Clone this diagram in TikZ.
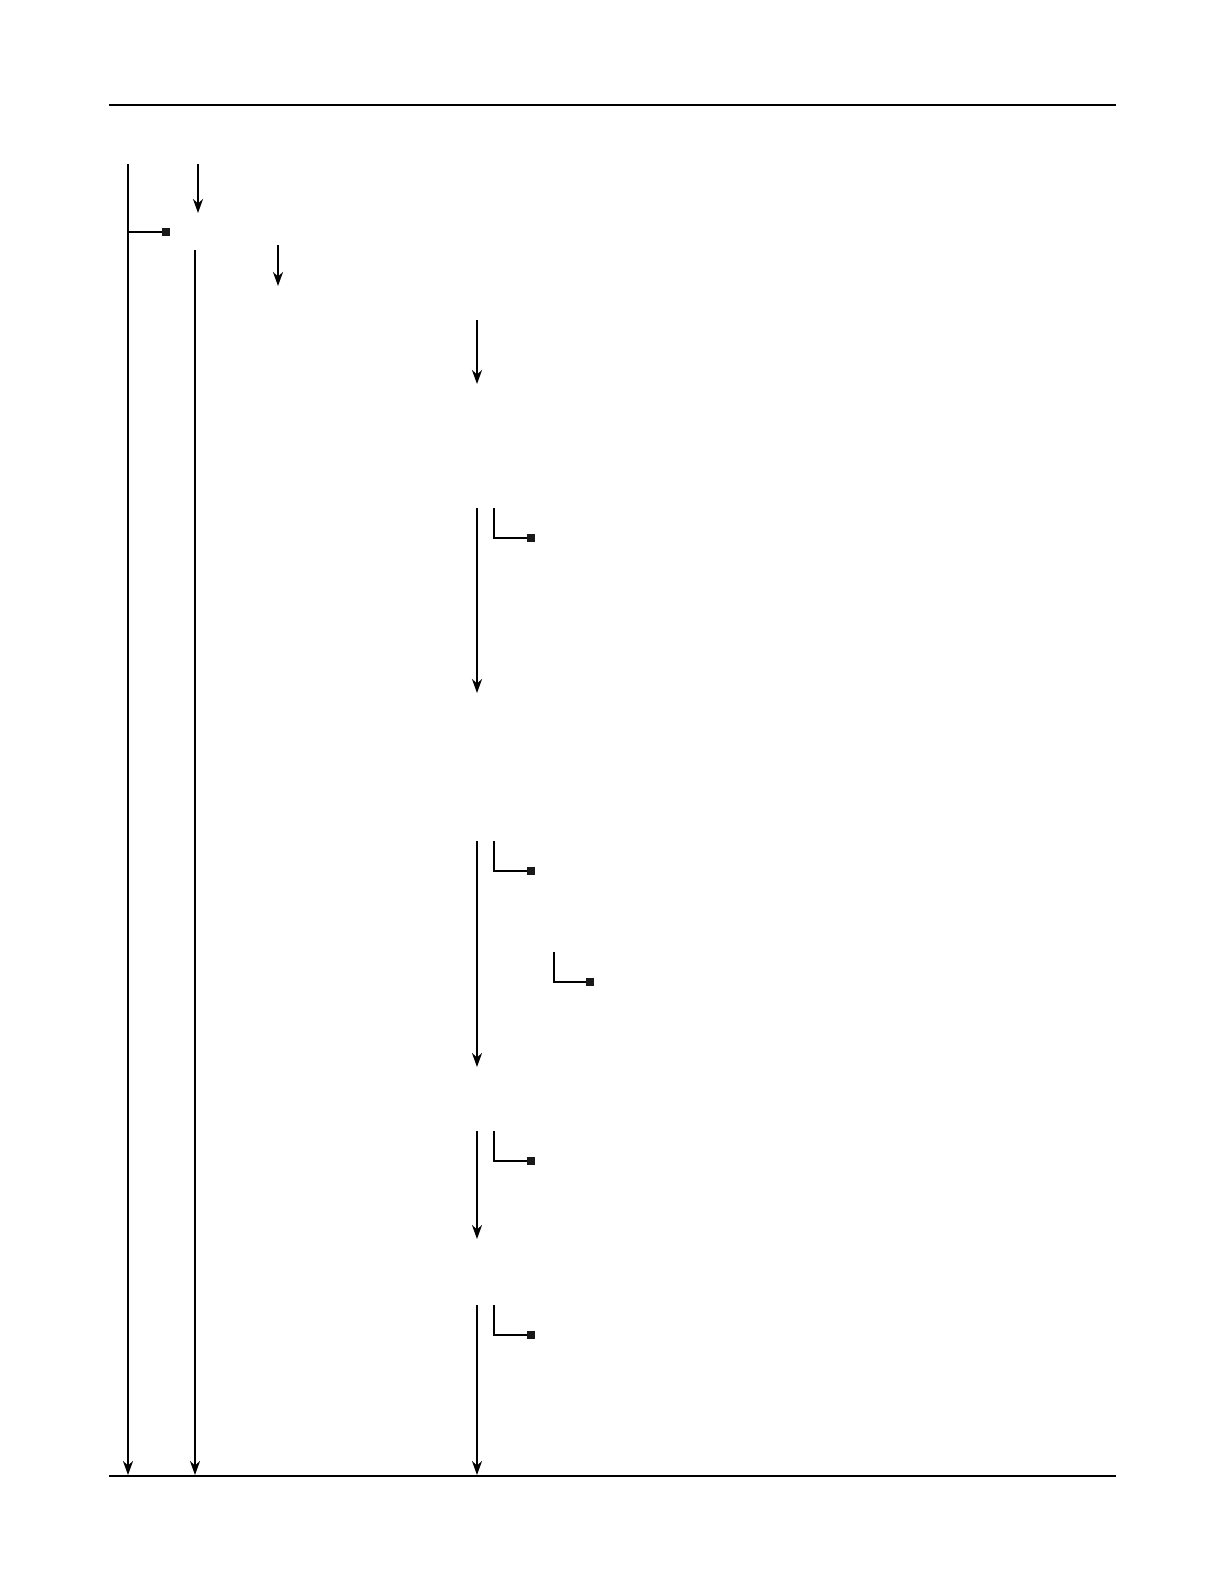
\documentclass[tikz,border=0pt]{standalone}
\usetikzlibrary{arrows.meta, positioning}

\tikzset{
  flow/.style={line width=1.3pt, -{Stealth[length=7pt,width=5pt]}},
  bar/.style={line width=1.3pt},
  tab/.style={line width=1.1pt},
  stub/.style={fill=black!90, draw=none, minimum size=4pt, inner sep=0pt},
}

\begin{document}
\begin{tikzpicture}[x=0.5pt, y=-0.5pt]
        \useasboundingbox (0,0) rectangle (1224,1584);

        % rules
        \coordinate (topL) at (109,105);
        \coordinate (topR) at (1116,105);
        \coordinate (botL) at (109,1476);
        \coordinate (botR) at (1116,1476);
        \draw[line width=1.2pt] (topL) -- (topR);
        \draw[line width=0.9pt] (botL) -- (botR);

        % outer lanes
        \coordinate (laneA) at (128,164);
        \coordinate (laneAend) at (128,1475);
        \coordinate (laneAtap) at (128,232);
        \node[stub] (sqA) at (166,232) {};
        \draw[flow] (laneA) -- (laneAend);
        \draw[tab] (laneAtap) -- (sqA);

        \coordinate (inB) at (198,164);
        \coordinate (inBend) at (198,213);
        \draw[flow] (inB) -- (inBend);

        \coordinate (laneC) at (195,250);
        \coordinate (laneCend) at (195,1475);
        \draw[flow] (laneC) -- (laneCend);

        \coordinate (inD) at (278,245);
        \coordinate (inDend) at (278,286);
        \draw[flow] (inD) -- (inDend);

        % inner lane, first step
        \coordinate (stepE) at (477,320);
        \coordinate (stepEend) at (477,384);
        \draw[flow] (stepE) -- (stepEend);

        % inner lane, steps with a tab
        \foreach \name/\top/\bot in {F/508/693, G/841/1067, H/1131/1239, I/1305/1475} {
          \coordinate (step\name) at (477,\top);
          \coordinate (step\name end) at (477,\bot);
          \coordinate (tab\name) at (494,\top);
          \coordinate (tab\name corner) at (494,\top+30);
          \node[stub] (sq\name) at (531,\top+30) {};
          \draw[flow] (step\name) -- (step\name end);
          \draw[tab] (tab\name) -- (tab\name corner) -- (sq\name);
        }

        % extra tab in step G
        \coordinate (tabG2) at (554,952);
        \coordinate (tabG2corner) at (554,982);
        \node[stub] (sqG2) at (590,982) {};
        \draw[tab] (tabG2) -- (tabG2corner) -- (sqG2);
\end{tikzpicture}
\end{document}
